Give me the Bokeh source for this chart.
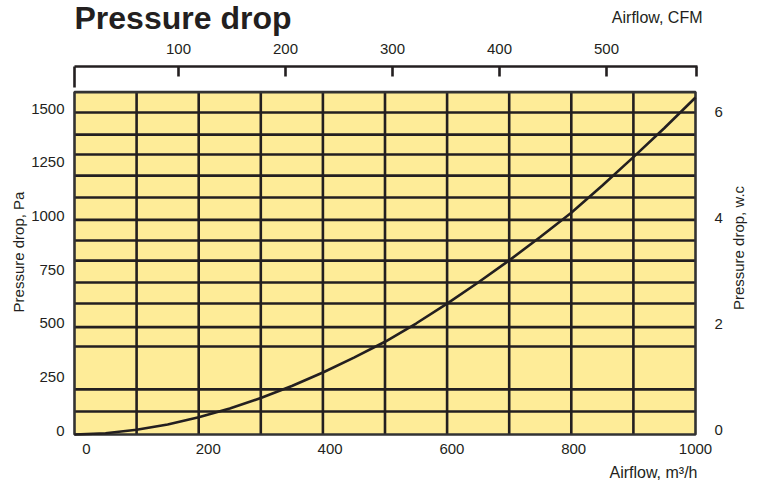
import math
from bokeh.plotting import figure
from bokeh.models import Range1d, LinearAxis, FixedTicker
from bokeh.core.properties import value
from bokeh.embed import file_html
from bokeh.resources import INLINE

# ---- data ----
flow_m3h = [0, 50, 100, 150, 200, 250, 300, 350, 400, 450, 500,
            550, 600, 650, 700, 750, 800, 850, 900, 950, 1000]
drop_pa = [0, 6, 22, 47, 80, 121, 170, 226, 289, 358, 432,
           517, 610, 708, 811, 920, 1033, 1160, 1292, 1428, 1570]

grid_flow = [100, 200, 300, 400, 500, 600, 700, 800, 900]
grid_pa = [107, 210, 410, 500, 610, 708, 810, 904, 1000, 1104, 1206, 1304, 1397, 1500]

flow_min, flow_max = 0, 1000
pa_min, pa_max = 0, 1595

pa_ticks = [0, 250, 500, 750, 1000, 1250, 1500]
wc_ticks = [0, 2, 4, 6]
m3h_ticks = [0, 200, 400, 600, 800, 1000]
cfm_ticks = [100, 200, 300, 400, 500]
cfm_start, cfm_end = 2.8, 584.5

title_text = "Pressure drop"
cfm_title = "Airflow, CFM"
m3h_title = "Airflow, m³/h"
pa_title = "Pressure drop, Pa"
wc_title = "Pressure drop, w.c"

INK = "#231f20"
YELLOW = "#feec98"
FONT = "Liberation Sans"

W, H = 750, 482

# the frame covers the whole canvas; axes are pinned with fixed_location
p = figure(width=W, height=H, output_backend="svg", toolbar_location=None,
           x_range=Range1d(-119.16, 1088.57), y_range=Range1d(-223.6, 2021.7),
           min_border=0, x_axis_type=None, y_axis_type=None)
p.outline_line_color = None
p.xgrid.visible = False
p.ygrid.visible = False

p.extra_x_ranges = {"cfm": Range1d(-66.36, 634.58), "bot": Range1d(-141.2, 1090.3),
                    "px": Range1d(0, W)}
p.extra_y_ranges = {"lbl": Range1d(-242.2, 2003.1), "wc": Range1d(-0.9906, 8.1038),
                    "px": Range1d(H, 0)}

# yellow panel
p.quad(left=[flow_min], right=[flow_max], bottom=[pa_min], top=[pa_max],
       fill_color=YELLOW, line_color=None)
# grid lines
p.segment(x0=[flow_min] * len(grid_pa), x1=[flow_max] * len(grid_pa),
          y0=grid_pa, y1=grid_pa, line_color=INK, line_width=2.6)
p.segment(x0=grid_flow, x1=grid_flow, y0=[pa_min] * len(grid_flow),
          y1=[pa_max] * len(grid_flow), line_color=INK, line_width=2.6)
# border
p.quad(left=[flow_min], right=[flow_max], bottom=[pa_min], top=[pa_max],
       fill_color=None, line_color="#333333", line_width=2.6)
# curve
p.line(flow_m3h, drop_pa, line_color=INK, line_width=2.6)

TOP_AXIS_PA = 1714.3   # level of the CFM scale line
# long start tick of the CFM scale
p.segment(x0=[flow_min], x1=[flow_min], y0=[1616], y1=[TOP_AXIS_PA],
          line_color=INK, line_width=2.6)


def style(ax, standoff):
    ax.axis_line_color = None
    ax.major_tick_line_color = None
    ax.minor_tick_line_color = None
    ax.major_tick_out = 0
    ax.major_tick_in = 0
    ax.minor_tick_out = 0
    ax.minor_tick_in = 0
    ax.major_label_text_font = FONT
    ax.major_label_text_font_size = "15px"
    ax.major_label_text_color = INK
    ax.major_label_standoff = standoff


left = LinearAxis(y_range_name="lbl", ticker=FixedTicker(ticks=pa_ticks),
                  fixed_location=-3.22)
style(left, 8)
p.add_layout(left, "left")

right = LinearAxis(y_range_name="wc", ticker=FixedTicker(ticks=wc_ticks),
                   fixed_location=1003.2)
style(right, 17)
p.add_layout(right, "right")

bottom = LinearAxis(x_range_name="bot", ticker=FixedTicker(ticks=m3h_ticks),
                    fixed_location=-9.32)
style(bottom, 7)
p.add_layout(bottom, "below")

top = LinearAxis(x_range_name="cfm", ticker=FixedTicker(ticks=cfm_ticks + [cfm_end]),
                 fixed_location=TOP_AXIS_PA, bounds=(cfm_start, cfm_end + 0.5))
style(top, 12)
top.axis_line_color = INK
top.axis_line_width = 2.6
top.major_tick_line_color = INK
top.major_tick_line_width = 2.6
top.major_tick_in = 10
top.major_tick_out = 0
top.major_label_overrides = {cfm_end: ""}
p.add_layout(top, "above")

# texts (positioned in canvas pixels through the "px" ranges)
txt = dict(x_range_name="px", y_range_name="px", text_font=value(FONT),
           text_color=INK, text_baseline="middle")
p.text(x=[74], y=[17], text=[title_text], text_font_style="bold",
       text_font_size="32px", text_align="left", **txt)
p.text(x=[702], y=[16.5], text=[cfm_title], text_font_size="16px",
       text_align="right", **txt)
p.text(x=[697], y=[472], text=[m3h_title], text_font_size="16px",
       text_align="right", **txt)
p.text(x=[18], y=[251.5], text=[pa_title], text_font_size="15px", angle=math.pi / 2,
       text_align="center", **txt)
p.text(x=[738], y=[247.5], text=[wc_title], text_font_size="15px", angle=math.pi / 2,
       text_align="center", **txt)

open("out.html", "w").write(file_html(p, INLINE))
